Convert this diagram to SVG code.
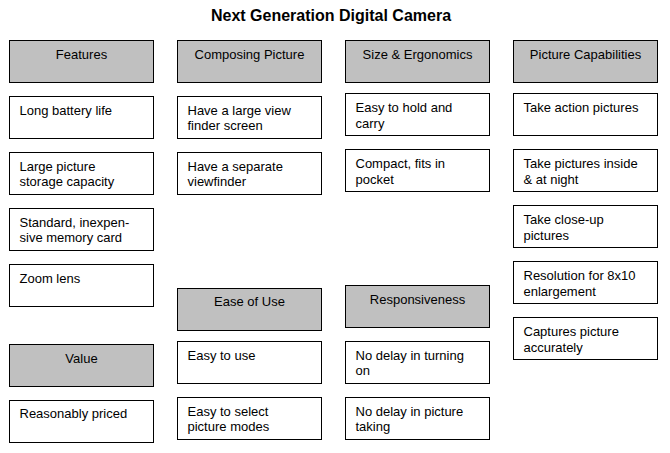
<svg xmlns="http://www.w3.org/2000/svg" width="670" height="453" viewBox="0 0 670 453">
<style>
  .hdr rect{fill:#c0c0c0;stroke:#000;stroke-width:1}
  .itm rect{fill:#fff;stroke:#000;stroke-width:1}
  text{font-family:"Liberation Sans",Arial,sans-serif;font-size:13px;fill:#000}
  .hdr text{text-anchor:middle}
  .title{font-size:16px;font-weight:bold;text-anchor:middle}
</style>
<rect width="670" height="453" fill="#fff"/>
<text class="title" x="331" y="21">Next Generation Digital Camera</text>
<g id="connectors"></g>

<!-- Column 1 -->
<g id="features" class="hdr"><rect x="9.5" y="40.5" width="144" height="42"/><text x="81.5" y="58.5">Features</text></g>
<g id="f1" class="itm"><rect x="9.5" y="96.5" width="144" height="42"/><text x="19.5" y="114.5">Long battery life</text></g>
<g id="f2" class="itm"><rect x="9.5" y="152.5" width="144" height="42"/><text x="19.5" y="170.5">Large picture</text><text x="19.5" y="186">storage capacity</text></g>
<g id="f3" class="itm"><rect x="9.5" y="208.5" width="144" height="42"/><text x="19.5" y="226.5">Standard, inexpen-</text><text x="19.5" y="242">sive memory card</text></g>
<g id="f4" class="itm"><rect x="9.5" y="264.5" width="144" height="42"/><text x="19.5" y="282.5">Zoom lens</text></g>
<g id="value" class="hdr"><rect x="9.5" y="344.5" width="144" height="42"/><text x="81.5" y="362.5">Value</text></g>
<g id="v1" class="itm"><rect x="9.5" y="400.5" width="144" height="42"/><text x="19.5" y="418">Reasonably priced</text></g>

<!-- Column 2 -->
<g id="composing" class="hdr"><rect x="177.5" y="40.5" width="144" height="42"/><text x="249.5" y="58.5">Composing Picture</text></g>
<g id="c1" class="itm"><rect x="177.5" y="96.5" width="144" height="42"/><text x="187.5" y="114.5">Have a large view</text><text x="187.5" y="130">finder screen</text></g>
<g id="c2" class="itm"><rect x="177.5" y="152.5" width="144" height="42"/><text x="187.5" y="170.5">Have a separate</text><text x="187.5" y="186">viewfinder</text></g>
<g id="ease" class="hdr"><rect x="177.5" y="288.5" width="144" height="42"/><text x="249.5" y="306">Ease of Use</text></g>
<g id="e1" class="itm"><rect x="177.5" y="341.5" width="144" height="42"/><text x="187.5" y="359.5">Easy to use</text></g>
<g id="e2" class="itm"><rect x="177.5" y="397.5" width="144" height="42"/><text x="187.5" y="415.5">Easy to select</text><text x="187.5" y="431">picture modes</text></g>

<!-- Column 3 -->
<g id="size" class="hdr"><rect x="345.5" y="40.5" width="144" height="42"/><text x="417.5" y="58.5">Size &amp; Ergonomics</text></g>
<g id="s1" class="itm"><rect x="345.5" y="93.5" width="144" height="42"/><text x="355.5" y="112">Easy to hold and</text><text x="355.5" y="127.5">carry</text></g>
<g id="s2" class="itm"><rect x="345.5" y="149.5" width="144" height="42"/><text x="355.5" y="168">Compact, fits in</text><text x="355.5" y="183.5">pocket</text></g>
<g id="resp" class="hdr"><rect x="345.5" y="285.5" width="144" height="42"/><text x="417.5" y="303.5">Responsiveness</text></g>
<g id="r1" class="itm"><rect x="345.5" y="341.5" width="144" height="42"/><text x="355.5" y="359.5">No delay in turning</text><text x="355.5" y="375">on</text></g>
<g id="r2" class="itm"><rect x="345.5" y="397.5" width="144" height="42"/><text x="355.5" y="415.5">No delay in picture</text><text x="355.5" y="431">taking</text></g>

<!-- Column 4 -->
<g id="capab" class="hdr"><rect x="513.5" y="40.5" width="144" height="42"/><text x="585.5" y="58.5">Picture Capabilities</text></g>
<g id="p1" class="itm"><rect x="513.5" y="93.5" width="144" height="42"/><text x="523.5" y="112">Take action pictures</text></g>
<g id="p2" class="itm"><rect x="513.5" y="149.5" width="144" height="42"/><text x="523.5" y="168">Take pictures inside</text><text x="523.5" y="183.5">&amp; at night</text></g>
<g id="p3" class="itm"><rect x="513.5" y="205.5" width="144" height="42"/><text x="523.5" y="224">Take close-up</text><text x="523.5" y="239.5">pictures</text></g>
<g id="p4" class="itm"><rect x="513.5" y="261.5" width="144" height="42"/><text x="523.5" y="280">Resolution for 8x10</text><text x="523.5" y="295.5">enlargement</text></g>
<g id="p5" class="itm"><rect x="513.5" y="317.5" width="144" height="42"/><text x="523.5" y="336">Captures picture</text><text x="523.5" y="351.5">accurately</text></g>
</svg>
